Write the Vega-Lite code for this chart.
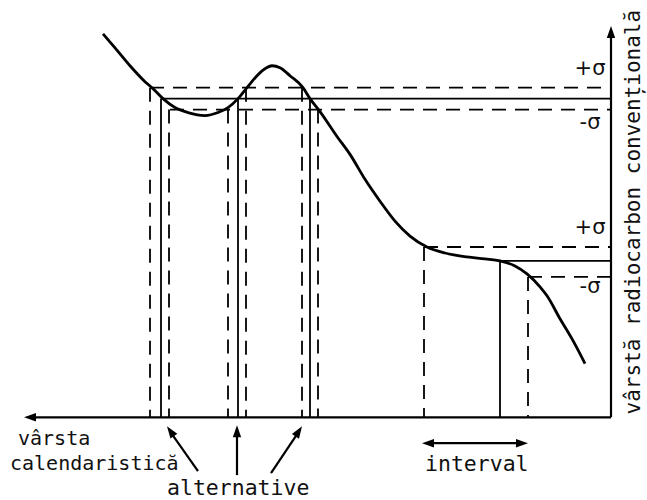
{
  "$schema": "https://vega.github.io/schema/vega-lite/v6.json",
  "width": 647,
  "height": 500,
  "autosize": {"type": "fit", "contains": "padding"},
  "padding": 0,
  "background": "white",
  "config": {"view": {"stroke": null}},
  "datasets": {
    "curve": [
      {"cal": 103, "rc": 466}, {"cal": 115, "rc": 452}, {"cal": 130, "rc": 434},
      {"cal": 145, "rc": 418}, {"cal": 153, "rc": 411}, {"cal": 163, "rc": 401},
      {"cal": 175, "rc": 392}, {"cal": 188, "rc": 387}, {"cal": 205, "rc": 384},
      {"cal": 218, "rc": 387}, {"cal": 228, "rc": 392}, {"cal": 238, "rc": 401},
      {"cal": 247, "rc": 412}, {"cal": 257, "rc": 424}, {"cal": 265, "rc": 431},
      {"cal": 272, "rc": 434}, {"cal": 280, "rc": 432}, {"cal": 290, "rc": 424},
      {"cal": 303, "rc": 412}, {"cal": 310, "rc": 401}, {"cal": 320, "rc": 388},
      {"cal": 337, "rc": 363}, {"cal": 350, "rc": 345}, {"cal": 365, "rc": 320},
      {"cal": 380, "rc": 298}, {"cal": 395, "rc": 278}, {"cal": 410, "rc": 263},
      {"cal": 427, "rc": 252}, {"cal": 445, "rc": 246}, {"cal": 467, "rc": 242},
      {"cal": 485, "rc": 240}, {"cal": 500, "rc": 238}, {"cal": 515, "rc": 233},
      {"cal": 527, "rc": 225}, {"cal": 540, "rc": 212}, {"cal": 547, "rc": 203},
      {"cal": 560, "rc": 180}, {"cal": 573, "rc": 158}, {"cal": 585, "rc": 135}
    ],
    "levels": [
      {"rc": 412, "from": 150, "to": 611, "kind": "sigma"},
      {"rc": 401, "from": 161, "to": 611, "kind": "mean"},
      {"rc": 390, "from": 170, "to": 611, "kind": "sigma"},
      {"rc": 252, "from": 424, "to": 611, "kind": "sigma"},
      {"rc": 238, "from": 500, "to": 611, "kind": "mean"},
      {"rc": 222, "from": 528, "to": 611, "kind": "sigma"}
    ],
    "drops": [
      {"cal": 150, "top": 412, "base": 81, "kind": "sigma"},
      {"cal": 161, "top": 401, "base": 81, "kind": "mean"},
      {"cal": 169, "top": 390, "base": 81, "kind": "sigma"},
      {"cal": 228, "top": 390, "base": 81, "kind": "sigma"},
      {"cal": 238, "top": 401, "base": 81, "kind": "mean"},
      {"cal": 246, "top": 412, "base": 81, "kind": "sigma"},
      {"cal": 302, "top": 412, "base": 81, "kind": "sigma"},
      {"cal": 310, "top": 401, "base": 81, "kind": "mean"},
      {"cal": 318, "top": 390, "base": 81, "kind": "sigma"},
      {"cal": 424, "top": 252, "base": 81, "kind": "sigma"},
      {"cal": 500, "top": 238, "base": 81, "kind": "mean"},
      {"cal": 528, "top": 222, "base": 81, "kind": "sigma"}
    ],
    "strokes": [
      {"x1": 30, "y1": 81, "x2": 611, "y2": 81},
      {"x1": 611, "y1": 81, "x2": 611, "y2": 466},
      {"x1": 198, "y1": 27, "x2": 170, "y2": 67},
      {"x1": 237, "y1": 23, "x2": 237, "y2": 67},
      {"x1": 271, "y1": 25, "x2": 299, "y2": 67},
      {"x1": 430, "y1": 55, "x2": 520, "y2": 55}
    ],
    "heads": [
      {"x": 24, "y": 81, "dir": 270},
      {"x": 611, "y": 474, "dir": 0},
      {"x": 167, "y": 72, "dir": 325},
      {"x": 237, "y": 73, "dir": 0},
      {"x": 302, "y": 72, "dir": 33},
      {"x": 422, "y": 55, "dir": 270},
      {"x": 528, "y": 55, "dir": 90}
    ],
    "caption": [
      {"x": 18, "y": 53, "label": "vârsta"},
      {"x": 10, "y": 28, "label": "calendaristică"}
    ],
    "notes": [
      {"x": 167, "y": 3, "label": "alternative"},
      {"x": 425, "y": 27, "label": "interval"}
    ],
    "sigmas": [
      {"x": 590, "y": 425, "label": "+σ"},
      {"x": 590, "y": 370, "label": "-σ"},
      {"x": 590, "y": 265, "label": "+σ"},
      {"x": 590, "y": 206, "label": "-σ"}
    ],
    "ytitle": [
      {"x": 640, "y": 287, "label": "vârstă radiocarbon convențională"}
    ]
  },
  "layer": [
    {
      "data": {"name": "levels"},
      "mark": {"type": "rule", "color": "black", "strokeWidth": 1.8},
      "encoding": {
        "x": {"field": "from", "type": "quantitative", "scale": {"domain": [0, 647], "nice": false, "zero": false}, "axis": null},
        "x2": {"field": "to"},
        "y": {"field": "rc", "type": "quantitative", "scale": {"domain": [0, 500], "nice": false, "zero": false}, "axis": null},
        "strokeDash": {"field": "kind", "type": "nominal", "scale": {"domain": ["mean", "sigma"], "range": [[1, 0], [14, 9]]}, "legend": null}
      }
    },
    {
      "data": {"name": "drops"},
      "mark": {"type": "rule", "color": "black", "strokeWidth": 1.8},
      "encoding": {
        "x": {"field": "cal", "type": "quantitative"},
        "y": {"field": "top", "type": "quantitative"},
        "y2": {"field": "base"},
        "strokeDash": {"field": "kind", "type": "nominal", "legend": null}
      }
    },
    {
      "data": {"name": "strokes"},
      "mark": {"type": "rule", "color": "black", "strokeWidth": 2.2},
      "encoding": {
        "x": {"field": "x1", "type": "quantitative"},
        "x2": {"field": "x2"},
        "y": {"field": "y1", "type": "quantitative"},
        "y2": {"field": "y2"}
      }
    },
    {
      "data": {"name": "curve"},
      "mark": {"type": "line", "color": "black", "strokeWidth": 2.8, "interpolate": "monotone"},
      "encoding": {
        "x": {"field": "cal", "type": "quantitative"},
        "y": {"field": "rc", "type": "quantitative"}
      }
    },
    {
      "data": {"name": "heads"},
      "mark": {"type": "point", "shape": "M0,0L0.7,2L-0.7,2Z", "filled": true, "color": "black", "opacity": 1, "size": 144, "strokeWidth": 0},
      "encoding": {
        "x": {"field": "x", "type": "quantitative"},
        "y": {"field": "y", "type": "quantitative"},
        "angle": {"field": "dir", "type": "quantitative", "scale": null}
      }
    },
    {
      "data": {"name": "caption"},
      "mark": {"type": "text", "font": "DejaVu Sans Mono", "fontSize": 20, "align": "left", "baseline": "alphabetic", "color": "#111"},
      "encoding": {
        "x": {"field": "x", "type": "quantitative"},
        "y": {"field": "y", "type": "quantitative"},
        "text": {"field": "label"}
      }
    },
    {
      "data": {"name": "notes"},
      "mark": {"type": "text", "font": "DejaVu Sans Mono", "fontSize": 21.5, "align": "left", "baseline": "alphabetic", "color": "#111"},
      "encoding": {
        "x": {"field": "x", "type": "quantitative"},
        "y": {"field": "y", "type": "quantitative"},
        "text": {"field": "label"}
      }
    },
    {
      "data": {"name": "sigmas"},
      "mark": {"type": "text", "font": "DejaVu Sans", "fontSize": 21, "align": "center", "baseline": "alphabetic", "color": "#111"},
      "encoding": {
        "x": {"field": "x", "type": "quantitative"},
        "y": {"field": "y", "type": "quantitative"},
        "text": {"field": "label"}
      }
    },
    {
      "data": {"name": "ytitle"},
      "mark": {"type": "text", "font": "DejaVu Sans Mono", "fontSize": 21, "angle": 270, "align": "center", "baseline": "alphabetic", "color": "#111"},
      "encoding": {
        "x": {"field": "x", "type": "quantitative"},
        "y": {"field": "y", "type": "quantitative"},
        "text": {"field": "label"}
      }
    }
  ]
}
